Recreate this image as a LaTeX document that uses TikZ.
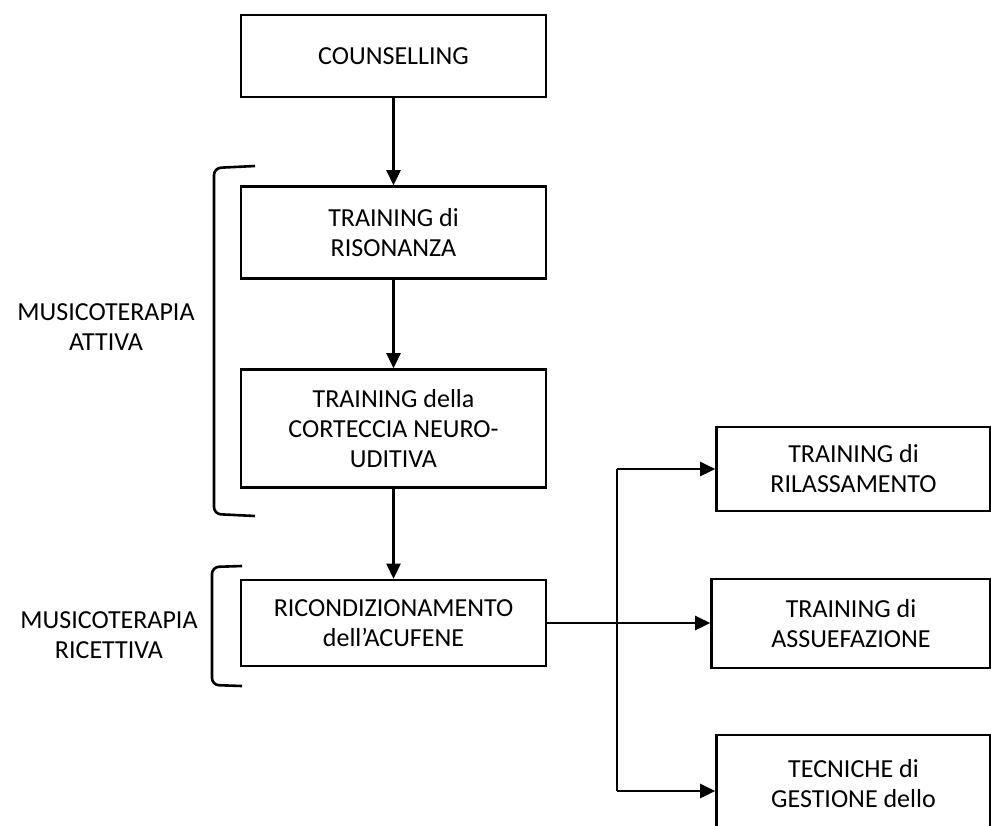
\documentclass[tikz,border=0pt]{standalone}
\usepackage{fontspec}
\setmainfont{Carlito}
\usetikzlibrary{arrows.meta,calc}
\tikzset{
  box/.style={draw=black, line width=2.6pt, rectangle, minimum width=305pt, align=center, inner sep=0pt, font=\fontsize{26}{30}\selectfont},
  lbl/.style={align=center, inner sep=0pt, font=\fontsize{26}{30}\selectfont},
  conn/.style={line width=2.6pt, -{Triangle[length=15pt,width=14pt]}},
  plain/.style={line width=2.6pt},
  brk/.style={line width=2.6pt, rounded corners=7pt},
}
\begin{document}
\begin{tikzpicture}[x=1pt,y=-1pt]
\useasboundingbox (0,0) rectangle (991,825);
\clip (0,0) rectangle (991,825);
% main column
\node[box, minimum height=82pt] (couns) at (393.5,56) {COUNSELLING};
\node[box, minimum height=92pt] (ris) at (393.5,232.5) {TRAINING di\\RISONANZA};
\node[box, minimum height=118pt] (cort) at (393.5,428.5) {TRAINING della\\CORTECCIA NEURO-\\UDITIVA};
\node[box, minimum height=86pt] (ric) at (393.5,623) {RICONDIZIONAMENTO\\dell’ACUFENE};
% right column
\node[box, minimum width=274pt, minimum height=84pt] (ril) at (853.5,469) {TRAINING di\\RILASSAMENTO};
\node[box, minimum width=279pt, minimum height=89pt] (ass) at (851,623.5) {TRAINING di\\ASSUEFAZIONE};
\node[box, minimum width=274pt, minimum height=112pt] (tec) at (853.5,791) {};
\node[lbl] (tect) at (853.5,784) {TECNICHE di\\GESTIONE dello};
% side labels
\node[lbl] (lab1) at (106,327) {MUSICOTERAPIA\\ATTIVA};
\node[lbl] (lab2) at (109,635) {MUSICOTERAPIA\\RICETTIVA};
% connectors
\draw[conn] (couns) -- (ris);
\draw[conn] (ris) -- (cort);
\draw[conn] (cort) -- (ric);
\draw[conn] (ric.east) -- (ric.east -| ass.west);
\coordinate (bx) at (617,624);
\draw[conn] (bx |- ril.west) -- (ril.west);
\draw[conn] (bx |- tec.west) -- (tec.west);
\draw[plain] (bx |- ril.west) -- (bx |- tec.west);
% brackets
\draw[brk] (255,166) -- (214,168) -- (214,514) -- (255,516);
\draw[brk] (242,566) -- (212,567) -- (212,685) -- (242,686);
\end{tikzpicture}
\end{document}
